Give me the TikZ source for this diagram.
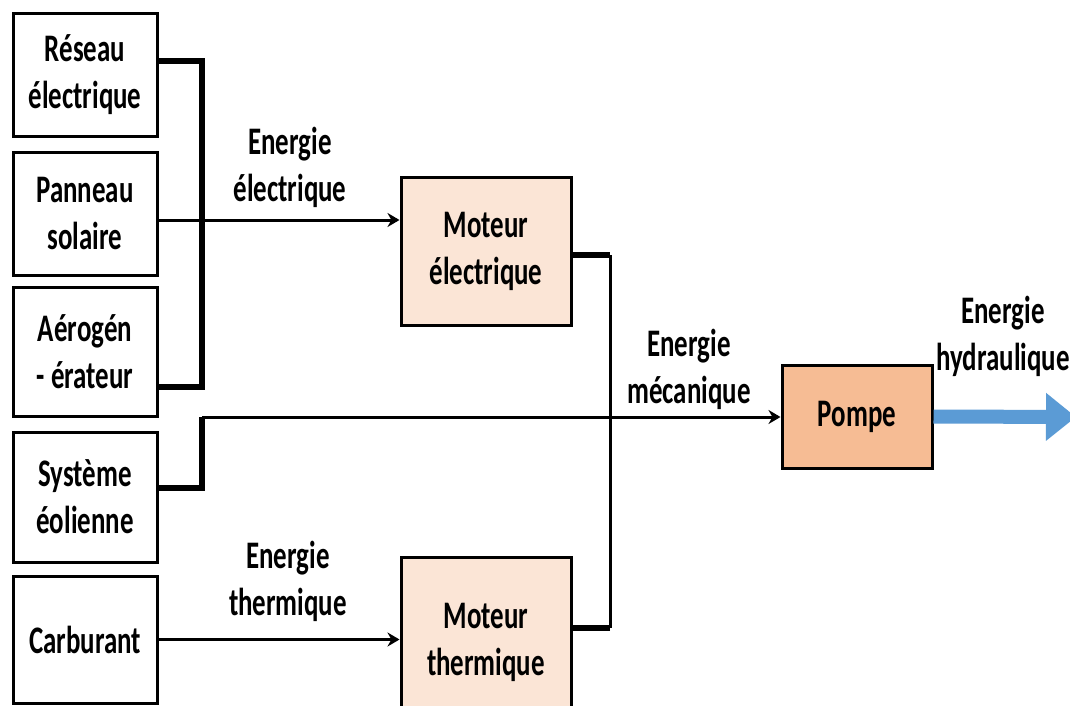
\documentclass[tikz,border=0pt]{standalone}
\usepackage{fontspec}
\setmainfont{Carlito}[FakeStretch=0.69]
\usetikzlibrary{arrows.meta}
\definecolor{peachlight}{HTML}{FBE5D6}
\definecolor{peach}{HTML}{F6BC94}
\definecolor{flowblue}{HTML}{5B9BD5}
\begin{document}
\begin{tikzpicture}[x=1pt,y=1pt,
  txt/.style={font=\fontsize{39}{47}\selectfont\bfseries, align=center, inner sep=0pt},
  box/.style={draw, line width=3pt, txt},
  src/.style={box, minimum width=144pt},
  motor/.style={box, fill=peachlight, minimum width=170pt},
  bus/.style={line width=5.5pt},
  link/.style={line width=3pt},
  flow/.style={line width=3pt, -{Stealth[length=12pt,width=14pt]}},
  lbl/.style={txt}]
\useasboundingbox (0,0) rectangle (1070,-706);
\fill[white] (0,0) rectangle (1070,-706);

% energy sources
\node[src, minimum height=122pt] (reseau)  at (85,-75)    {Réseau\\électrique};
\node[src, minimum height=123pt] (panneau) at (85,-213.5) {Panneau\\solaire};
\node[src, minimum height=129pt] (aero)    at (85,-351.5) {Aérogén\\- érateur};
\node[src, minimum height=130pt] (eol)     at (85,-497)   {Système\\éolienne};
\node[src, minimum height=127pt] (carb)    at (85,-639.5) {Carburant};

% converters
\node[motor, minimum height=148pt] (melec)  at (486,-251) {Moteur\\électrique};
\node[motor, minimum height=170pt] (mtherm) at (486,-642) {Moteur\\thermique};
\node[box, fill=peach, minimum width=150pt, minimum height=103pt] (pompe) at (857,-416.5) {Pompe};

% junction points
\coordinate (busTop) at (202,-61);
\coordinate (busBot) at (202,-387);
\coordinate (elecIn) at (0,-220);
\coordinate (eolUp)  at (202,-488);
\coordinate (mecRow) at (202,-417);
\coordinate (mecTop) at (610,-255);
\coordinate (mecBot) at (610,-628);
\coordinate (hydEnd) at (1076,-417);

% electrical sources collected on one bus
\draw[bus] (reseau.east |- busTop) -- (busTop) -- (busBot) -- (aero.east |- busBot);
\draw[flow] (panneau.east |- elecIn) -- (melec.west |- elecIn);

% wind system straight to the pump
\draw[bus] (eol.east |- eolUp) -- (eolUp) -- (mecRow);
\draw[flow] (mecRow) -- (pompe.west |- mecRow);

% fuel to the thermal engine
\draw[flow] (carb.east) -- (mtherm.west |- carb.east);

% mechanical outputs of both engines
\draw[bus] (melec.east |- mecTop) -- (mecTop);
\draw[link] (mecTop) -- (mecBot);
\draw[bus] (mecBot) -- (mtherm.east |- mecBot);

% hydraulic output
\draw[flowblue, line width=14pt, -{Triangle[length=30pt,width=46pt]}] (pompe.east) -- (hydEnd);

% flow labels
\node[lbl] (lElec) at (290,-167) {Energie\\électrique};
\node[lbl] (lMec)  at (689,-369) {Energie\\mécanique};
\node[lbl] (lHyd)  at (1003,-336) {Energie\\hydraulique};
\node[lbl] (lTher) at (288,-581) {Energie\\thermique};
\end{tikzpicture}
\end{document}
